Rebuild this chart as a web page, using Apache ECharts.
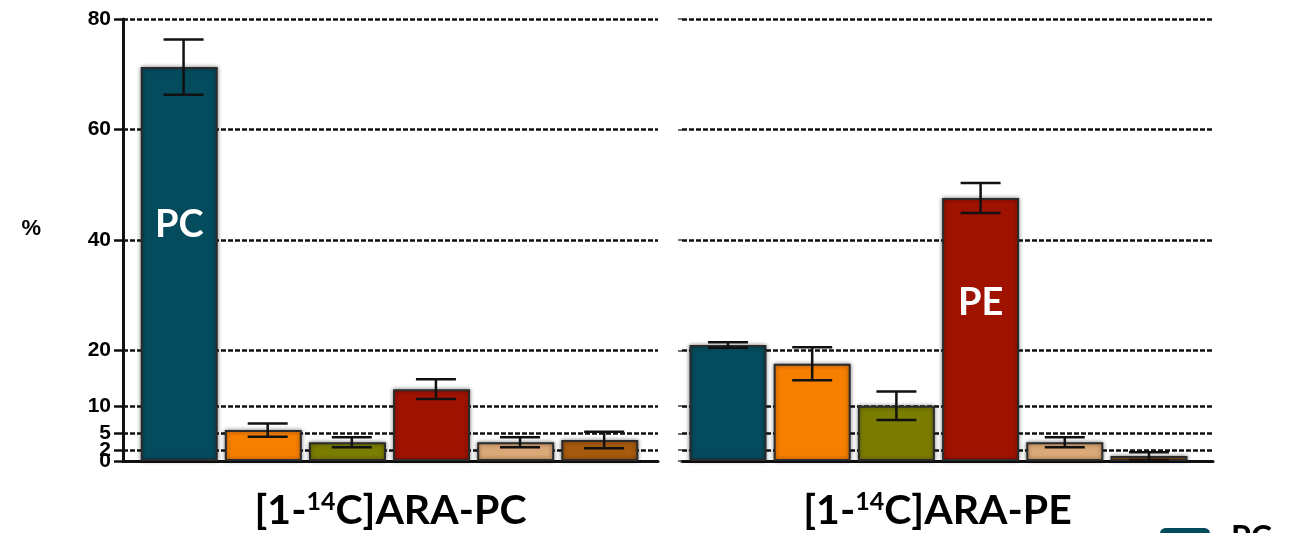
<!DOCTYPE html>
<html style="height: 100%">
  <head>
    <meta charset="utf-8" />
  </head>
  <body style="height: 100%; margin: 0; background: #fff">
    <div id="container" style="width: 1304px; height: 533px"></div>

    <script
      type="text/javascript"
      src="https://cdn.jsdelivr.net/npm/echarts@6/dist/echarts.min.js"
    ></script>

    <script type="text/javascript">
      var dom = document.getElementById("container");
      var myChart = echarts.init(dom);

      // lipid class colours, same order in both panels
      var classColors = ["#054b5e", "#f77f00", "#7b7d00", "#a01200", "#dba877", "#a65a0d"];
      var yTicks = [0, 2, 5, 10, 20, 40, 60, 80];
      // "2" sits so close to "0" that echarts drops it, so it gets its own axis
      var yLabelsMain = [0, 5, 10, 20, 40, 60, 80];
      var yLabelsExtra = [2];

      // [1-14C]ARA-PC panel, mean and sd in %
      var pcMeans = [71.3, 5.6, 3.4, 13.0, 3.4, 3.8];
      var pcSd = [5.0, 1.2, 0.9, 1.8, 0.9, 1.5];

      // [1-14C]ARA-PE panel
      var peMeans = [21.0, 17.6, 10.0, 47.6, 3.4, 0.9];
      var peSd = [0.5, 3.0, 2.6, 2.7, 0.9, 0.7];

      // class label printed inside the highlighted bar
      var pcInside = { idx: 0, text: "PC" };
      var peInside = { idx: 3, text: "PE" };

      var black = "#111";
      var gridLine = {
        show: true,
        lineStyle: { color: "#111", width: 2.5, type: [5, 2] },
      };
      var yLabelStyle = {
        showMinLabel: true,
        showMaxLabel: true,
        hideOverlap: false,
        margin: 12,
        fontFamily: "Liberation Sans",
        fontWeight: "bold",
        fontSize: 21,
        color: "#000",
      };

      function barData(means, inside) {
        return means.map(function (v, i) {
          var item = {
            value: [i, v],
            itemStyle: { color: classColors[i] },
          };
          if (i === inside.idx) {
            item.label = {
              show: true,
              formatter: inside.text,
              position: ["50%", "40%"],
              align: "center",
              verticalAlign: "middle",
              color: "#fff",
              fontFamily: "Lato",
              fontWeight: "bold",
              fontSize: 38,
            };
          }
          return item;
        });
      }

      function errData(means, sd) {
        return means.map(function (v, i) {
          return [i, Math.max(v - sd[i], 0), v + sd[i]];
        });
      }

      function renderError(params, api) {
        var x = api.value(0);
        var lo = api.coord([x, api.value(1)]);
        var hi = api.coord([x, api.value(2)]);
        var hw = 20;
        var style = { stroke: "#111", lineWidth: 2.5 };
        return {
          type: "group",
          children: [
            { type: "line", shape: { x1: lo[0], y1: lo[1], x2: hi[0], y2: hi[1] }, style: style },
            { type: "line", shape: { x1: lo[0] - hw, y1: lo[1], x2: lo[0] + hw, y2: lo[1] }, style: style },
            { type: "line", shape: { x1: hi[0] - hw, y1: hi[1], x2: hi[0] + hw, y2: hi[1] }, style: style },
          ],
        };
      }

      function panelName(tail) {
        return "{b|[1-}{s|14}{b|C]ARA-" + tail + "}";
      }

      var nameRich = {
        b: { fontFamily: "Lato", fontWeight: "bold", fontSize: 41, lineHeight: 44, color: "#000" },
        s: { fontFamily: "Lato", fontWeight: "bold", fontSize: 25, lineHeight: 26, color: "#000", verticalAlign: "top" },
      };

      var barStyle = {
        borderColor: "#2b2b2b",
        borderWidth: 2,
        shadowBlur: 4,
        shadowColor: "rgba(0,0,0,0.45)",
      };

      var option = {
        backgroundColor: "#fff",
        animation: false,
        legend: {
          data: ["PC"],
          left: 1160,
          top: 523,
          padding: 0,
          itemWidth: 50,
          itemHeight: 22,
          textStyle: {
            fontFamily: "Lato",
            fontWeight: "bold",
            fontSize: 32,
            color: "#000",
            padding: [0, 0, 0, 16],
          },
        },
        grid: [
          { left: 123, width: 535, top: 19, bottom: 72, outerBoundsMode: "none", containLabel: false },
          { left: 682, width: 531, top: 19, bottom: 72, outerBoundsMode: "none", containLabel: false },
        ],
        xAxis: [
          {
            gridIndex: 0,
            type: "value",
            min: -0.72,
            max: 5.64,
            axisLine: { show: true, onZero: false, lineStyle: { color: black, width: 3 } },
            axisTick: { show: false },
            axisLabel: { show: false },
            splitLine: { show: false },
            name: panelName("PC"),
            nameLocation: "middle",
            nameGap: 28,
            nameTextStyle: { rich: nameRich },
          },
          {
            gridIndex: 1,
            type: "value",
            min: -0.546,
            max: 5.76,
            axisLine: { show: true, onZero: false, lineStyle: { color: black, width: 3 } },
            axisTick: { show: false },
            axisLabel: { show: false },
            splitLine: { show: false },
            name: panelName("PE"),
            nameLocation: "middle",
            nameGap: 28,
            nameTextStyle: { rich: nameRich, padding: [0, 20, 0, 0] },
          },
        ],
        yAxis: [
          {
            gridIndex: 0,
            type: "value",
            min: 0,
            max: 80,
            name: "%",
            nameLocation: "middle",
            nameRotate: 0,
            nameGap: 82,
            nameTextStyle: {
              fontFamily: "Liberation Sans",
              fontWeight: "bold",
              fontSize: 22,
              color: "#000",
              verticalAlign: "bottom",
            },
            axisLine: { show: true, onZero: false, lineStyle: { color: black, width: 3 } },
            axisTick: { show: true, length: 9, customValues: yTicks, lineStyle: { color: black, width: 2.5 } },
            axisLabel: Object.assign({ customValues: yLabelsMain }, yLabelStyle),
            splitLine: gridLine,
          },
          {
            gridIndex: 1,
            type: "value",
            min: 0,
            max: 80,
            axisLine: { show: false, onZero: false },
            axisTick: { show: true, length: 4, customValues: yTicks, lineStyle: { color: "#444", width: 1.5 } },
            axisLabel: { show: false, customValues: yTicks },
            splitLine: gridLine,
          },
          {
            gridIndex: 0,
            type: "value",
            position: "left",
            min: 0,
            max: 80,
            axisLine: { show: false, onZero: false },
            axisTick: { show: false, customValues: yLabelsExtra },
            axisLabel: Object.assign({ customValues: yLabelsExtra }, yLabelStyle),
            splitLine: { show: false },
          },
        ],
        series: [
          {
            name: "[1-14C]ARA-PC",
            type: "bar",
            xAxisIndex: 0,
            yAxisIndex: 0,
            barWidth: 77,
            itemStyle: barStyle,
            data: barData(pcMeans, pcInside),
            z: 3,
          },
          {
            name: "[1-14C]ARA-PE",
            type: "bar",
            xAxisIndex: 1,
            yAxisIndex: 1,
            barWidth: 77,
            itemStyle: barStyle,
            data: barData(peMeans, peInside),
            z: 3,
          },
          {
            type: "custom",
            xAxisIndex: 0,
            yAxisIndex: 0,
            renderItem: renderError,
            data: errData(pcMeans, pcSd),
            z: 4,
          },
          {
            type: "custom",
            xAxisIndex: 1,
            yAxisIndex: 1,
            renderItem: renderError,
            data: errData(peMeans, peSd),
            z: 4,
          },
          {
            // only here so the legend key for PC shows
            name: "PC",
            type: "bar",
            xAxisIndex: 0,
            yAxisIndex: 0,
            itemStyle: { color: classColors[0] },
            data: [],
          },
        ],
      };

      if (option && typeof option === "object") {
        myChart.setOption(option);
      }
    </script>
  </body>
</html>
